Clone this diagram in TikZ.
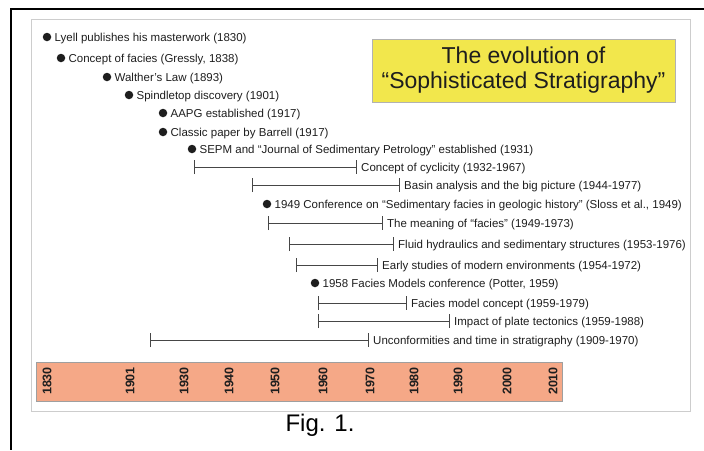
\documentclass[tikz,border=0pt]{standalone}
\usepackage{fontspec}
\setmainfont{Liberation Sans}
\usetikzlibrary{positioning,arrows.meta}
\definecolor{ink}{RGB}{30,30,30}
\definecolor{barink}{RGB}{70,70,70}
\definecolor{framegray}{RGB}{205,205,205}
\definecolor{salmon}{RGB}{245,168,135}
\definecolor{titleyellow}{RGB}{242,231,76}

\begin{document}
\begin{tikzpicture}[x=1pt, y=-1pt,
  evdot/.style={circle, fill=ink, inner sep=0pt, minimum size=8.5pt},
  lbl/.style={font=\fontsize{11.5}{13}\selectfont, text=ink, inner sep=0pt, yshift=-1.5pt},
  spanline/.style={arrows={Bar[width=14pt]-Bar[width=14pt]}, draw=barink, line width=0.9pt},
  yearlbl/.style={font=\fontsize{12.5}{14}\selectfont\bfseries, text=ink, rotate=90, inner sep=0pt}]
  \useasboundingbox (0,0) rectangle (704,450);
  \draw[line width=2.7pt] (704,9) -- (11,9) -- (11,450);
  \draw[framegray, line width=0.8pt] (31,19) rectangle (690,411);

  \node[draw=gray!60, fill=titleyellow, minimum width=303pt, minimum height=63pt, inner sep=0pt,
    align=center, text=ink, font=\fontsize{23}{25}\selectfont] (title) at (523.5,70.5)
    {The evolution of\\“Sophisticated Stratigraphy”};

  \node[evdot] (lyell) at (47,37) {};
  \node[lbl, right=3pt of lyell] (lyell-t) {Lyell publishes his masterwork (1830)};
  \node[evdot] (gressly) at (61,58) {};
  \node[lbl, right=3pt of gressly] (gressly-t) {Concept of facies (Gressly, 1838)};
  \node[evdot] (walther) at (107,77) {};
  \node[lbl, right=3pt of walther] (walther-t) {Walther’s Law (1893)};
  \node[evdot] (spindle) at (129,95) {};
  \node[lbl, right=3pt of spindle] (spindle-t) {Spindletop discovery (1901)};
  \node[evdot] (aapg) at (163,113) {};
  \node[lbl, right=3pt of aapg] (aapg-t) {AAPG established (1917)};
  \node[evdot] (barrell) at (163,132) {};
  \node[lbl, right=3pt of barrell] (barrell-t) {Classic paper by Barrell (1917)};
  \node[evdot] (sepm) at (192,149) {};
  \node[lbl, right=3pt of sepm] (sepm-t) {SEPM and “Journal of Sedimentary Petrology” established (1931)};

  \coordinate (cyc-a) at (194,167);
  \coordinate (cyc-b) at (357,167);
  \draw[spanline] (cyc-a) -- (cyc-b);
  \node[lbl, right=4pt of cyc-b] (cyc-t) {Concept of cyclicity (1932-1967)};
  \coordinate (basin-a) at (252,185);
  \coordinate (basin-b) at (400,185);
  \draw[spanline] (basin-a) -- (basin-b);
  \node[lbl, right=4pt of basin-b] (basin-t) {Basin analysis and the big picture (1944-1977)};

  \node[evdot] (sloss) at (267,204) {};
  \node[lbl, right=3pt of sloss] (sloss-t) {1949 Conference on “Sedimentary facies in geologic history” (Sloss et al., 1949)};

  \coordinate (mean-a) at (268,223);
  \coordinate (mean-b) at (383,223);
  \draw[spanline] (mean-a) -- (mean-b);
  \node[lbl, right=4pt of mean-b] (mean-t) {The meaning of “facies” (1949-1973)};
  \coordinate (fluid-a) at (289,244);
  \coordinate (fluid-b) at (394,244);
  \draw[spanline] (fluid-a) -- (fluid-b);
  \node[lbl, right=4pt of fluid-b] (fluid-t) {Fluid hydraulics and sedimentary structures (1953-1976)};
  \coordinate (early-a) at (296,265);
  \coordinate (early-b) at (378,265);
  \draw[spanline] (early-a) -- (early-b);
  \node[lbl, right=4pt of early-b] (early-t) {Early studies of modern environments (1954-1972)};

  \node[evdot] (potter) at (315,283) {};
  \node[lbl, right=3pt of potter] (potter-t) {1958 Facies Models conference (Potter, 1959)};

  \coordinate (model-a) at (318,303);
  \coordinate (model-b) at (407,303);
  \draw[spanline] (model-a) -- (model-b);
  \node[lbl, right=4pt of model-b] (model-t) {Facies model concept (1959-1979)};
  \coordinate (plate-a) at (318,321);
  \coordinate (plate-b) at (450,321);
  \draw[spanline] (plate-a) -- (plate-b);
  \node[lbl, right=4pt of plate-b] (plate-t) {Impact of plate tectonics (1959-1988)};
  \coordinate (unconf-a) at (150,340);
  \coordinate (unconf-b) at (369,340);
  \draw[spanline] (unconf-a) -- (unconf-b);
  \node[lbl, right=4pt of unconf-b] (unconf-t) {Unconformities and time in stratigraphy (1909-1970)};

  \draw[draw=gray!75, fill=salmon] (36,362) rectangle (562,401);
  \node[yearlbl] (y1830) at (47,381) {1830};
  \node[yearlbl] (y1901) at (130,381) {1901};
  \node[yearlbl] (y1930) at (184,381) {1930};
  \node[yearlbl] (y1940) at (229,381) {1940};
  \node[yearlbl] (y1950) at (275,381) {1950};
  \node[yearlbl] (y1960) at (323,381) {1960};
  \node[yearlbl] (y1970) at (370,381) {1970};
  \node[yearlbl] (y1980) at (414,381) {1980};
  \node[yearlbl] (y1990) at (458,381) {1990};
  \node[yearlbl] (y2000) at (507,381) {2000};
  \node[yearlbl] (y2010) at (553,381) {2010};

  \node[font=\fontsize{24}{28}\selectfont, text=black] (fig) at (320,425) {Fig. 1.};
\end{tikzpicture}
\end{document}
